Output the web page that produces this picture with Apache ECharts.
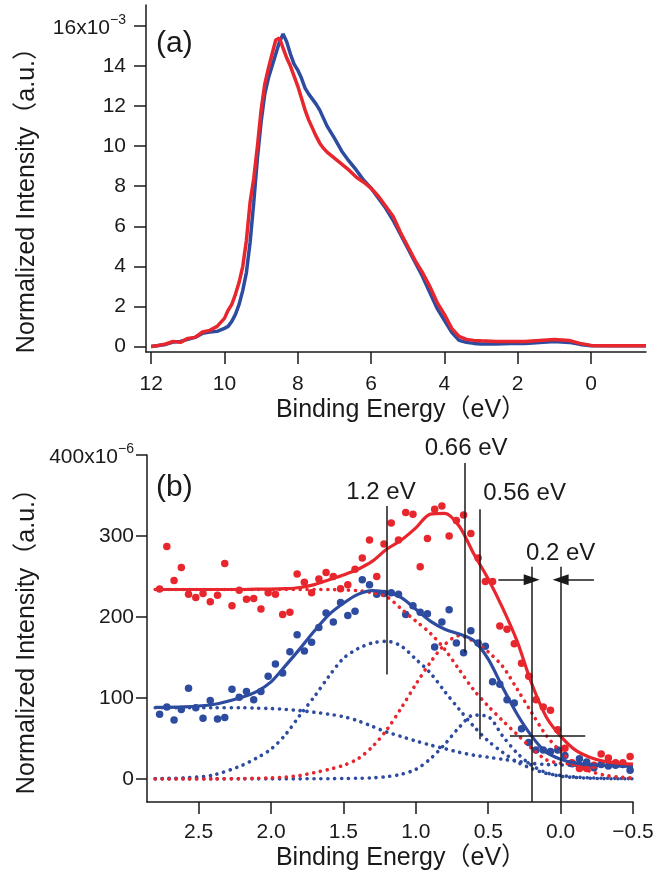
<!DOCTYPE html>
<html>
<head>
<meta charset="utf-8">
<script src="https://cdn.jsdelivr.net/npm/echarts@6/dist/echarts.min.js"></script>
<style>
  html, body { margin: 0; padding: 0; background: #fff; }
  #chart { width: 671px; height: 877px; }
</style>
</head>
<body>
<div id="chart"></div>
<script>
var FONT = '"Liberation Sans", "Noto Sans CJK JP", sans-serif';
var BLUE = '#2d4b9f';
var RED = '#e8262d';
var INK = '#1a1a1a';

// ---- panel (a): valence band spectra (x10^-3)
var energyA = [12.0, 11.8, 11.6, 11.4, 11.2, 11.0, 10.8, 10.6, 10.4, 10.2, 10.0,
  9.9, 9.8, 9.7, 9.6, 9.5, 9.4, 9.3, 9.2, 9.1, 9.0, 8.9, 8.8, 8.7, 8.6, 8.5, 8.4, 8.3, 8.2, 8.1, 8.0,
  7.9, 7.8, 7.7, 7.6, 7.5, 7.4, 7.3, 7.2, 7.1, 7.0,
  6.8, 6.6, 6.4, 6.2, 6.0, 5.8, 5.6, 5.4, 5.2, 5.0, 4.8, 4.6, 4.4, 4.2, 4.0, 3.8, 3.6, 3.4, 3.2, 3.0,
  2.6, 2.2, 1.8, 1.4, 1.0, 0.6, 0.3, 0.0, -0.4, -0.8, -1.2, -1.5];
var redA = [0.0, 0.05, 0.12, 0.25, 0.2, 0.4, 0.45, 0.72, 0.8, 1.0, 1.4,
  1.8, 2.1, 2.6, 3.2, 4.0, 5.3, 7.2, 8.4, 10.0, 11.8, 13.1, 13.9, 14.6, 15.3, 15.4, 14.9, 14.4, 14.0, 13.5, 13.0,
  12.4, 11.8, 11.3, 10.9, 10.5, 10.15, 9.9, 9.7, 9.55, 9.4,
  9.1, 8.8, 8.45, 8.2, 7.9, 7.5, 7.0, 6.5, 5.7, 5.0, 4.3, 3.7, 3.0, 2.2, 1.6, 0.9, 0.5, 0.35, 0.3, 0.28,
  0.25, 0.25, 0.25, 0.3, 0.35, 0.3, 0.15, 0.05, 0.03, 0.03, 0.03, 0.03];
var blueA = [0.0, 0.05, 0.1, 0.22, 0.25, 0.35, 0.45, 0.65, 0.72, 0.75, 0.9,
  1.0, 1.25, 1.6, 2.1, 2.8, 3.7, 5.2, 7.2, 9.4, 11.2, 12.6, 13.4, 14.0, 14.6, 15.2, 15.6, 15.2, 14.6, 14.1, 13.8,
  13.4, 12.9, 12.6, 12.35, 12.1, 11.8, 11.4, 11.0, 10.7, 10.4,
  9.75, 9.25, 8.8, 8.3, 7.9, 7.4, 6.9, 6.3, 5.6, 4.9, 4.2, 3.5, 2.7, 1.9, 1.3, 0.7, 0.3, 0.2, 0.15, 0.12,
  0.12, 0.15, 0.15, 0.2, 0.25, 0.2, 0.1, 0.03, 0.03, 0.03, 0.03, 0.03];
var ticksAx = [0, 2, 4, 6, 8, 10, 12];
var ticksAy = [0, 2, 4, 6, 8, 10, 12, 14, 16];

// ---- panel (b): near Fermi level (x10^-6)
var energyDots = [2.77, 2.72, 2.67, 2.62, 2.57, 2.52, 2.47, 2.42, 2.37, 2.32,
  2.27, 2.22, 2.17, 2.12, 2.07, 2.02, 1.97, 1.92, 1.87, 1.82,
  1.77, 1.72, 1.67, 1.62, 1.57, 1.52, 1.47, 1.42, 1.37, 1.32,
  1.27, 1.22, 1.17, 1.12, 1.07, 1.02, 0.97, 0.92, 0.87, 0.82,
  0.77, 0.72, 0.67, 0.62, 0.57, 0.52, 0.47, 0.42, 0.37, 0.32,
  0.27, 0.22, 0.17, 0.12, 0.07, 0.02, -0.03, -0.08, -0.13, -0.18,
  -0.23, -0.28, -0.33, -0.38, -0.43, -0.48];
var redDots = [234.5, 287, 245, 261, 228, 224, 229, 219, 227, 266,
  214, 233, 222, 223, 210, 230, 228, 203, 206, 253,
  243, 230, 247, 255, 250, 235, 240, 259, 273, 295,
  250, 290, 316, 295, 329, 327, 262, 297, 333, 337,
  300, 319, 326, 303, 273, 244, 244, 189, 185, 167,
  143, 127, 98, 89, 85, 61, 38, 20, 13, 13,
  17, 31, 26, 20, 20, 28];
var blueDots = [80, 89, 73, 86, 112, 88, 75, 97, 74, 76,
  111, 101, 108, 98, 108, 127, 142, 131, 157, 178,
  158, 169, 187, 205, 194, 218, 202, 207, 246, 240,
  228, 229, 230, 228, 203, 214, 206, 204, 163, 194,
  209, 168, 156, 183, 168, 164, 120, 117, 98, 94,
  62, 45, 36, 36, 34, 36, 29, 19, 25, 21,
  14, 18, 16, 17, 18, 11];

var energyFit = [2.8, 2.6, 2.4, 2.2, 2.1, 2.0, 1.9, 1.8, 1.7, 1.6, 1.5, 1.4, 1.3, 1.2, 1.1, 1.0,
  0.9, 0.8, 0.7, 0.6, 0.5, 0.4, 0.3, 0.2, 0.1, 0.0, -0.1, -0.2, -0.3, -0.4, -0.5];
var redFit = [234, 234, 234, 234, 234.5, 234.5, 235, 236.5, 240, 246, 252, 259, 269, 284, 295, 310,
  327, 328, 312, 278, 247, 211, 170, 118, 77, 53, 36, 27, 22, 19.5, 18.5];
var blueFit = [88.5, 89, 92, 101, 108, 120, 140, 161, 183, 203, 217, 228, 232.5, 230.5, 224, 209.5,
  195, 185, 179, 171, 148, 113, 80, 53, 33, 24.5, 20, 18, 17, 16.2, 15.6];
var redBg = [234, 234, 234, 234, 234, 234, 234, 234, 234, 234, 233.5, 232.5, 230, 225, 210, 195,
  180, 160, 135, 110, 90, 72, 55, 38, 24, 19.5, 18.5, 17.5, 17.5, 17.2, 17.2];
var redPeak = [0, 0.1, 0.2, 0.5, 1, 1.5, 2.5, 4.5, 8, 12, 17, 25, 40, 61, 88, 117,
  144, 166, 177, 170, 157, 139, 111, 82, 54, 34, 19, 10, 5, 2.5, 1.3];
var blueBg = [88, 88, 88, 88, 87.5, 87, 86, 84.5, 82.5, 80, 77, 72, 65, 58, 52.5, 47,
  42, 37.5, 33, 29.5, 27, 24.5, 22, 19.5, 18, 17.5, 17, 17, 16.8, 16.6, 16.5];
var blueG1 = [0.5, 1.5, 5, 17, 26, 37, 55, 79, 102, 127, 149, 161, 168, 170, 164, 148,
  131, 108, 86, 65, 47, 33, 21, 13, 7, 4.5, 2.5, 1.5, 1, 0.8, 0.5];
var blueG2 = [0.3, 0.3, 0.3, 0.3, 0.3, 0.3, 0.3, 0.3, 0.4, 0.5, 0.7, 1, 1.5, 3, 6, 12,
  25, 43, 64, 79, 77, 53, 32, 17, 8, 3.5, 2, 1, 0.6, 0.4, 0.3];
var ticksBx = [-0.5, 0, 0.5, 1, 1.5, 2, 2.5];
var ticksBy = [0, 100, 200, 300, 400];
var yMinB = -28.3;

// peak markers and labels
var markE = [1.2, 0.66, 0.56, 0.2, 0.0];
var markFrom = [129, 156, 49, yMinB, yMinB];
var markTo = [337, 390, 333, 262, 262];
var noteText = ['1.2 eV', '0.66 eV', '0.56 eV', '0.2 eV'];
var noteE = [1.241, 0.652, 0.535, 0.0];
var noteV = [354, 408, 353, 279];
var noteAlign = ['center', 'center', 'left', 'center'];

function pairs(xs, ys) {
  return xs.map(function (x, i) { return [x, ys[i]]; });
}

var chart = echarts.init(document.getElementById('chart'));

var axisLineStyle = { color: INK, width: 1.5 };

function dotted(name, color, ys) {
  return {
    name: name, type: 'line', xAxisIndex: 1, yAxisIndex: 1,
    data: pairs(energyFit, ys), smooth: 0.3, showSymbol: false, silent: true,
    lineStyle: { color: color, width: 3.6, type: [0.1, 6.8], cap: 'round' }
  };
}

var markLines = markE.map(function (e, i) {
  return [{ coord: [e, markFrom[i]] }, { coord: [e, markTo[i]] }];
});
markLines.push([{ coord: [0.35, 53] }, { coord: [-0.17, 53] }]);
markLines.push([{ coord: [0.43, 246] }, { coord: [0.2, 246], symbol: 'triangle', symbolSize: [11, 16] }]);
markLines.push([{ coord: [-0.23, 246] }, { coord: [0.0, 246], symbol: 'triangle', symbolSize: [11, 16] }]);

var option = {
  animation: false,
  textStyle: { fontFamily: FONT },
  grid: [
    { left: 146, right: 25, top: 5, bottom: 525 },
    { left: 147, right: 38, top: 455, bottom: 75 }
  ],
  xAxis: [
    {
      gridIndex: 0, type: 'value', inverse: true, min: -1.5, max: 12.14,
      axisLine: { onZero: false, lineStyle: axisLineStyle },
      axisTick: { length: 12, lineStyle: axisLineStyle, customValues: ticksAx },
      axisLabel: { customValues: ticksAx, margin: 22, fontSize: 21, color: INK, fontFamily: FONT },
      splitLine: { show: false }
    },
    {
      gridIndex: 1, type: 'value', inverse: true, min: -0.5, max: 2.857,
      axisLine: { onZero: false, lineStyle: axisLineStyle },
      axisTick: { length: 12, lineStyle: axisLineStyle, customValues: ticksBx },
      axisLabel: {
        customValues: ticksBx, margin: 20, fontSize: 21, color: INK, fontFamily: FONT,
        formatter: function (v) { return v.toFixed(1).replace('-', '\u2212'); }
      },
      splitLine: { show: false }
    }
  ],
  yAxis: [
    {
      gridIndex: 0, type: 'value', min: -0.28, max: 17.05,
      axisLine: { onZero: false, lineStyle: axisLineStyle },
      axisTick: { length: 12, lineStyle: axisLineStyle, customValues: ticksAy },
      axisLabel: {
        customValues: ticksAy, margin: 20, color: INK, fontFamily: FONT,
        formatter: function (v) { return v === 16 ? '{m|16x10}{s|\u22123}' : '{m|' + v + '}'; },
        rich: {
          m: { fontSize: 21, color: INK, fontFamily: FONT, verticalAlign: 'bottom' },
          s: { fontSize: 14, color: INK, fontFamily: FONT, verticalAlign: 'bottom', padding: [0, 0, 11, 0] }
        }
      },
      splitLine: { show: false }
    },
    {
      gridIndex: 1, type: 'value', min: yMinB, max: 400,
      axisLine: { onZero: false, lineStyle: axisLineStyle },
      axisTick: { length: 11, lineStyle: axisLineStyle, customValues: ticksBy },
      axisLabel: {
        customValues: ticksBy, margin: 13, color: INK, fontFamily: FONT,
        formatter: function (v) { return v === 400 ? '{m|400x10}{s|\u22126}' : '{m|' + v + '}'; },
        rich: {
          m: { fontSize: 21, color: INK, fontFamily: FONT, verticalAlign: 'bottom' },
          s: { fontSize: 14, color: INK, fontFamily: FONT, verticalAlign: 'bottom', padding: [0, 0, 11, 0] }
        }
      },
      splitLine: { show: false }
    }
  ],
  series: [
    // (a)
    {
      name: 'blue a', type: 'line', xAxisIndex: 0, yAxisIndex: 0,
      data: pairs(energyA, blueA), showSymbol: false, silent: true,
      lineStyle: { color: BLUE, width: 3.5 }
    },
    {
      name: 'red a', type: 'line', xAxisIndex: 0, yAxisIndex: 0,
      data: pairs(energyA, redA), showSymbol: false, silent: true,
      lineStyle: { color: RED, width: 3.5 }
    },
    // (b) fitted components
    dotted('blue bg', BLUE, blueBg),
    dotted('blue 1.2', BLUE, blueG1),
    dotted('blue 0.56', BLUE, blueG2),
    dotted('red bg', RED, redBg),
    dotted('red 0.66', RED, redPeak),
    {
      name: 'blue fit', type: 'line', xAxisIndex: 1, yAxisIndex: 1,
      data: pairs(energyFit, blueFit), smooth: 0.3, showSymbol: false, silent: true,
      lineStyle: { color: BLUE, width: 3.2 }
    },
    {
      name: 'red fit', type: 'line', xAxisIndex: 1, yAxisIndex: 1,
      data: pairs(energyFit, redFit), smooth: 0.3, showSymbol: false, silent: true,
      lineStyle: { color: RED, width: 3.2 },
      markLine: {
        silent: true, animation: false, symbol: ['none', 'none'],
        lineStyle: { color: INK, width: 1.5, type: 'solid' },
        label: { show: false },
        emphasis: { disabled: true },
        data: markLines
      }
    },
    // (b) measured points
    {
      name: 'blue pts', type: 'scatter', xAxisIndex: 1, yAxisIndex: 1,
      data: pairs(energyDots, blueDots), symbolSize: 7.5, silent: true,
      itemStyle: { color: BLUE, opacity: 1 }
    },
    {
      name: 'red pts', type: 'scatter', xAxisIndex: 1, yAxisIndex: 1,
      data: pairs(energyDots, redDots), symbolSize: 7.5, silent: true,
      itemStyle: { color: RED, opacity: 1 }
    }
  ]
};

chart.setOption(option);

// text labels: axis titles, panel letters and peak notes
var graphics = [
  { type: 'text', x: 156, y: 29, style: { text: '(a)', font: '30px ' + FONT, fill: INK } },
  { type: 'text', x: 156, y: 473, style: { text: '(b)', font: '30px ' + FONT, fill: INK } },
  { type: 'text', x: 401, y: 410, style: { text: 'Binding Energy\uff08eV\uff09', font: '25px ' + FONT, fill: INK, align: 'center', verticalAlign: 'middle' } },
  { type: 'text', x: 401, y: 858, style: { text: 'Binding Energy\uff08eV\uff09', font: '25px ' + FONT, fill: INK, align: 'center', verticalAlign: 'middle' } },
  { type: 'text', x: 27, y: 35, rotation: Math.PI / 2, style: { text: 'Normalized Intensity\uff08a.u.\uff09', font: '25px ' + FONT, fill: INK, align: 'right', verticalAlign: 'middle' } },
  { type: 'text', x: 27, y: 476, rotation: Math.PI / 2, style: { text: 'Normalized Intensity\uff08a.u.\uff09', font: '25px ' + FONT, fill: INK, align: 'right', verticalAlign: 'middle' } }
];
noteText.forEach(function (t, i) {
  var p = chart.convertToPixel({ gridIndex: 1 }, [noteE[i], noteV[i]]);
  graphics.push({
    type: 'text', x: p[0], y: p[1],
    style: { text: t, font: '24px ' + FONT, fill: INK, align: noteAlign[i], verticalAlign: 'middle' }
  });
});
chart.setOption({ graphic: graphics });
</script>
</body>
</html>
